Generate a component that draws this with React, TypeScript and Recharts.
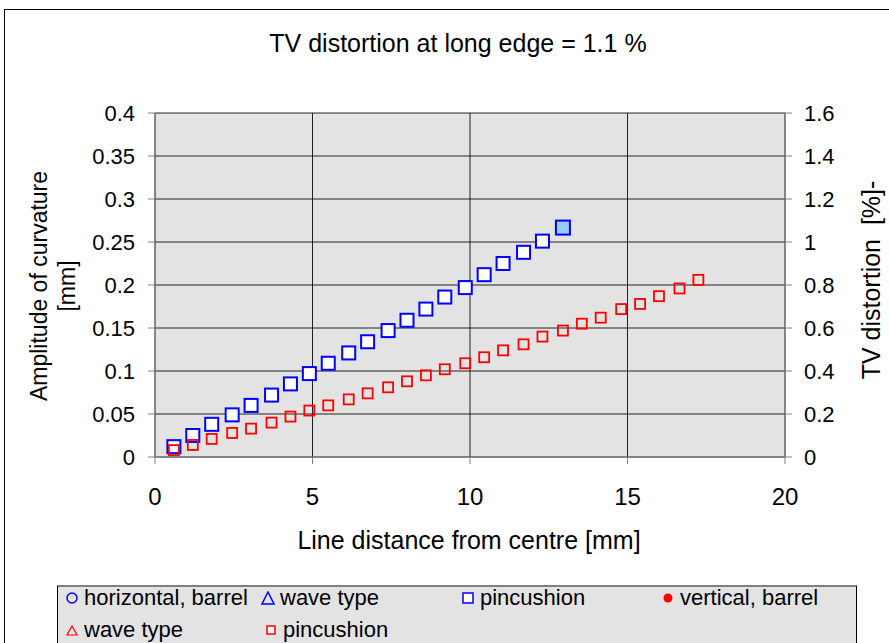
import { ScatterChart, Scatter, XAxis, YAxis, CartesianGrid } from 'recharts';

// horizontal pincushion (blue squares)
const hPinX = [0.6, 1.2, 1.8, 2.45, 3.05, 3.7, 4.3, 4.9, 5.5, 6.15, 6.75, 7.4, 8.0, 8.6, 9.2, 9.85, 10.45, 11.05, 11.7, 12.3];
const hPinY = [0.012, 0.025, 0.038, 0.049, 0.06, 0.072, 0.085, 0.097, 0.109, 0.121, 0.134, 0.147, 0.159, 0.172, 0.186, 0.197, 0.212, 0.225, 0.238, 0.251];

// vertical pincushion (red squares)
const vPinX = [0.6, 1.2, 1.8, 2.45, 3.05, 3.7, 4.3, 4.9, 5.5, 6.15, 6.75, 7.4, 8.0, 8.6, 9.2, 9.85, 10.45, 11.05, 11.7, 12.3, 12.95, 13.55, 14.15, 14.8, 15.4, 16.0, 16.65, 17.25];
const vPinY = [0.008, 0.014, 0.021, 0.028, 0.033, 0.04, 0.047, 0.054, 0.06, 0.067, 0.074, 0.081, 0.088, 0.095, 0.102, 0.109, 0.116, 0.124, 0.131, 0.14, 0.147, 0.155, 0.162, 0.172, 0.178, 0.187, 0.196, 0.206];

// TV distortion at long edge (right axis, %)
const tvX = [12.95];
const tvY = [1.067];

const xTicks = [0, 5, 10, 15, 20];
const leftTicks = [0, 0.05, 0.1, 0.15, 0.2, 0.25, 0.3, 0.35, 0.4];
const rightTicks = [0, 0.2, 0.4, 0.6, 0.8, 1, 1.2, 1.4, 1.6];

const FONT = '"Liberation Sans", Arial, sans-serif';

const hPin = hPinX.map((x, i) => ({ x, y: hPinY[i] }));
const vPin = vPinX.map((x, i) => ({ x, y: vPinY[i] }));
const tv = tvX.map((x, i) => ({ x, y: tvY[i] }));

const square = (size: number, stroke: string, fill: string, sw: number) => (props: any) => (
  <rect
    x={props.cx - size / 2}
    y={props.cy - size / 2}
    width={size}
    height={size}
    fill={fill}
    stroke={stroke}
    strokeWidth={sw}
  />
);

const yTick = { fill: '#000', fontSize: 22, fontFamily: FONT };
const xTick = { fill: '#000', fontSize: 24, fontFamily: FONT };

function LegendItem({ left, top, icon, label }: { left: number; top: number; icon: any; label: string }) {
  return (
    <div style={{ position: 'absolute', left, top, display: 'flex', alignItems: 'center', height: 26, whiteSpace: 'nowrap' }}>
      <svg width={14} height={14} style={{ marginRight: 5 }}>{icon}</svg>
      <span>{label}</span>
    </div>
  );
}

export default function App() {
  return (
    <div style={{ position: 'fixed', left: 0, top: 0, width: 889, height: 643, overflow: 'hidden', background: '#fff', fontFamily: FONT }}>
      <div style={{ position: 'absolute', left: 4, top: 9, width: 900, height: 700, border: '1px solid #000' }} />
      <div style={{ position: 'absolute', left: 0, top: 29, width: 916, textAlign: 'center', fontSize: 25 }}>
        TV distortion at long edge = 1.1 %
      </div>
      <div style={{ position: 'absolute', left: 0, top: 0 }}>
        <ScatterChart width={889} height={643} margin={{ top: 113, right: 44, bottom: 156, left: 95 }}>
          <CartesianGrid yAxisId="left" stroke="#000" strokeOpacity={0.85} fill="#e3e3e3" fillOpacity={1} />
          <XAxis
            type="number"
            dataKey="x"
            domain={[0, 20]}
            ticks={xTicks}
            height={30}
            tickSize={7}
            tickMargin={24}
            tick={xTick}
            stroke="#808080"
            label={{
              content: () => (
                <text x={469} y={549} textAnchor="middle" fontSize={25} fontFamily={FONT} fill="#000">
                  Line distance from centre [mm]
                </text>
              ),
            }}
          />
          <YAxis
            yAxisId="left"
            type="number"
            dataKey="y"
            domain={[0, 0.4]}
            ticks={leftTicks}
            width={60}
            tickSize={7}
            tickMargin={13}
            tick={yTick}
            stroke="#808080"
            label={{
              content: () => (
                <g fontSize={23} fontFamily={FONT} fill="#000">
                  <text x={47} y={286} textAnchor="middle" transform="rotate(-90 47 286)">
                    Amplitude of curvature
                  </text>
                  <text x={75} y={286} textAnchor="middle" transform="rotate(-90 75 286)">
                    [mm]
                  </text>
                </g>
              ),
            }}
          />
          <YAxis
            yAxisId="right"
            orientation="right"
            type="number"
            dataKey="y"
            domain={[0, 1.6]}
            ticks={rightTicks}
            width={60}
            tickSize={7}
            tickMargin={12}
            tick={yTick}
            stroke="#808080"
            label={{
              content: () => (
                <text x={880} y={280} textAnchor="middle" fontSize={25} fontFamily={FONT} fill="#000" transform="rotate(-90 880 280)" style={{ whiteSpace: 'pre' }}>
                  {'TV distortion  [%]-'}
                </text>
              ),
            }}
          />
          <Scatter yAxisId="left" name="pincushion" data={hPin} isAnimationActive={false} shape={square(13, '#0000ff', '#ffffff', 2)} />
          <Scatter yAxisId="left" name="pincushion" data={vPin} isAnimationActive={false} shape={square(10, '#ff0000', 'none', 1.8)} />
          <Scatter yAxisId="right" name="TV distortion" data={tv} isAnimationActive={false} shape={square(14, '#0000ff', '#99ccff', 2)} />
        </ScatterChart>
      </div>
      <div style={{ position: 'absolute', left: 57, top: 585, width: 798, height: 80, background: '#e3e3e3', borderTop: '2px solid #808080', borderLeft: '1px solid #000', borderRight: '1px solid #000', fontSize: 22 }}>
        <LegendItem left={7} top={-2} label="horizontal, barrel" icon={<circle cx={7} cy={7} r={5} fill="none" stroke="#0000ff" strokeWidth={1.5} />} />
        <LegendItem left={203} top={-2} label="wave type" icon={<polygon points="7,1 13,13 1,13" fill="none" stroke="#0000ff" strokeWidth={1.5} />} />
        <LegendItem left={403} top={-2} label="pincushion" icon={<rect x={2} y={2} width={10} height={10} fill="#fff" stroke="#0000ff" strokeWidth={1.5} />} />
        <LegendItem left={603} top={-2} label="vertical, barrel" icon={<circle cx={7} cy={7} r={4.5} fill="#ff0000" />} />
        <LegendItem left={7} top={30} label="wave type" icon={<polygon points="7,3 12,12 2,12" fill="none" stroke="#ff0000" strokeWidth={1.2} />} />
        <LegendItem left={206} top={30} label="pincushion" icon={<rect x={3} y={3} width={8} height={8} fill="#fff" stroke="#ff0000" strokeWidth={1.5} />} />
      </div>
    </div>
  );
}
